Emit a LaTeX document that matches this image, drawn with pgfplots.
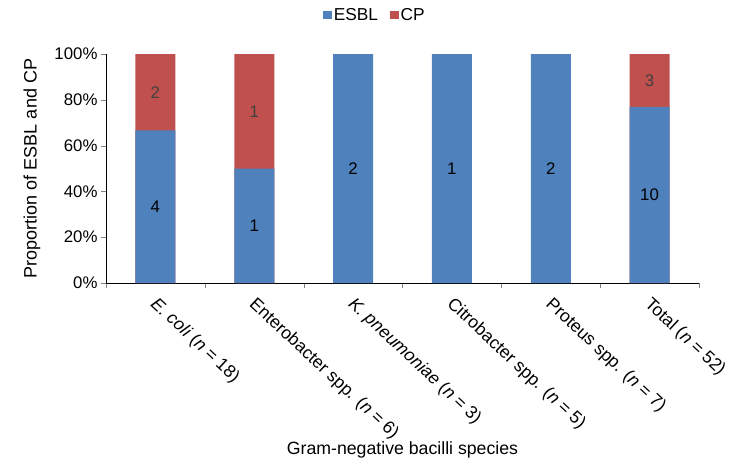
\documentclass[border=0pt]{standalone}
\usepackage{pgfplots}
\pgfplotsset{compat=1.18}
\usepackage{fontspec}
\setmainfont{Liberation Sans}

\definecolor{esbl}{RGB}{79,129,189}
\definecolor{cp}{RGB}{192,80,77}

\begin{document}
\begin{tikzpicture}
\path[use as bounding box] (0pt,0pt) rectangle (744pt,-465pt);
\begin{axis}[
    at={(106pt,-283pt)}, anchor=south west,
    scale only axis, width=593pt, height=229pt,
    font=\fontsize{16.8}{19}\selectfont,
    xmin=-0.5, xmax=5.5, ymin=0, ymax=100,
    axis x line*=bottom, axis y line*=left,
    tick align=outside, major tick length=5pt,
    xtick={-0.5,0.5,1.5,2.5,3.5,4.5,5.5}, xticklabels={},
    extra x ticks={0,1,2,3,4,5},
    extra x tick labels={{\textit{E. coli} (\textit{n} = 18)},
        {Enterobacter spp. (\textit{n} = 6)},
        {\textit{K. pneumoniae} (\textit{n} = 3)},
        {Citrobacter spp. (\textit{n} = 5)},
        {Proteus spp. (\textit{n} = 7)},
        {Total (\textit{n} = 52)}},
    extra x tick style={major tick length=0pt,
        tick label style={xshift=3pt, yshift=-8pt, rotate=-43, anchor=north west,
            font=\fontsize{17.6}{21}\selectfont}},
    ytick={0,20,40,60,80,100},
    yticklabels={0\%,20\%,40\%,60\%,80\%,100\%},
    ylabel={Proportion of ESBL and CP},
    every axis y label/.style={at={(axis description cs:-0.125,0.5)}, rotate=90, anchor=center,
        font=\fontsize{18}{21}\selectfont},
    xlabel={Gram-negative bacilli species},
    every axis x label/.style={at={(axis description cs:0.5,-0.728)}, anchor=center,
        font=\fontsize{17.7}{21}\selectfont},
    legend columns=2,
    legend style={draw=none, at={(0.4536,1.17)}, anchor=center,
        font=\fontsize{17.3}{20}\selectfont,
        /tikz/every even column/.append style={column sep=10pt}},
    legend image code/.code={\fill[#1] (0pt,-4.2pt) rectangle (8.5pt,4.3pt);},
    every axis plot/.append style={bar width=40pt, bar shift=0pt, draw=none},
]
\addlegendimage{fill=esbl}
\addlegendentry{ESBL}
\addlegendimage{fill=cp}
\addlegendentry{CP}

% CP share sits on top of ESBL, so the red bar runs from 0 to 100
\addplot[ybar, fill=cp, forget plot] table[x=x, y=top] {
x top n  base
0 100 2 66.67
1 100 1 50
5 100 3 76.92
};
\addplot[ybar, fill=esbl, forget plot] table[x=x, y=pct] {
x pct n
0 66.67 4
1 50 1
2 100 2
3 100 1
4 100 2
5 76.92 10
};

% segment counts
\addplot[only marks, mark=none, forget plot, point meta=explicit symbolic,
    nodes near coords, every node near coord/.style={anchor=center, text=black}]
    table[x=x, y expr=\thisrow{pct}/2, meta=n] {
x pct n
0 66.67 4
1 50 1
2 100 2
3 100 1
4 100 2
5 76.92 10
};
\addplot[only marks, mark=none, forget plot, point meta=explicit symbolic,
    nodes near coords, every node near coord/.style={anchor=center, text=black!75}]
    table[x=x, y expr=(100+\thisrow{base})/2, meta=n] {
x top n  base
0 100 2 66.67
1 100 1 50
5 100 3 76.92
};
\end{axis}
\end{tikzpicture}
\end{document}
